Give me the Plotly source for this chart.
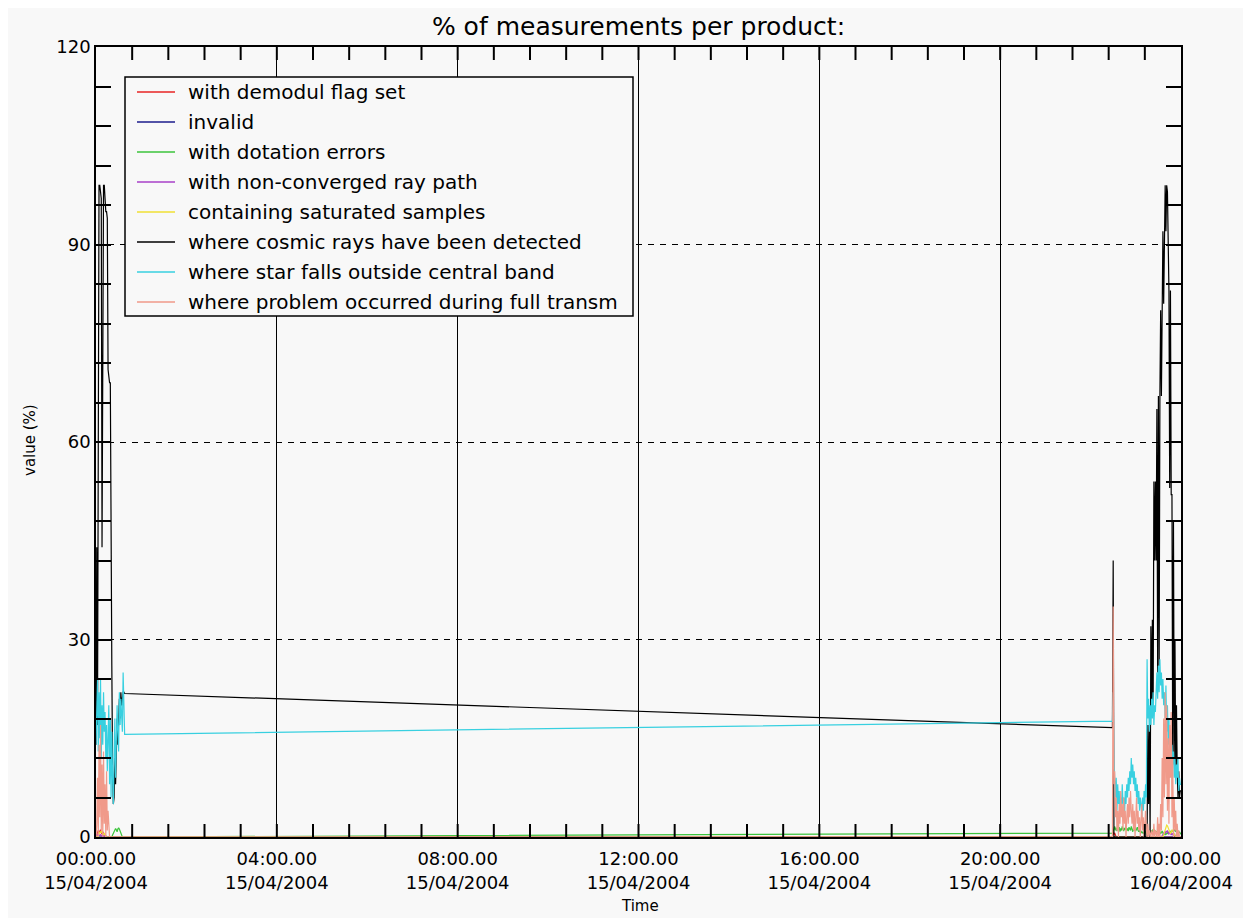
import pandas as pd
import plotly.graph_objects as go

# ---------------- data ----------------
# sample times (minutes after 15/04/2004 00:00)
left_minutes = list(range(0, 39))
right_minutes = list(range(1349, 1441))

series_names = [
    "with demodul flag set",
    "invalid",
    "with dotation errors",
    "with non-converged ray path",
    "containing saturated samples",
    "where cosmic rays have been detected",
    "where star falls outside central band",
    "where problem occurred during full transm",
]
series_colors = ["#e82424", "#1c1c8c", "#3cc43c", "#a840c8", "#f0e034",
                 "#000000", "#38d0e0", "#f09a8a"]

red_left = [0, 0.3, 0.8, 1.0, 0.6, 0.9, 1.1, 0.7, 0.4, 0.8, 0.5, 0.2, 0,
            0, 0, 0, 0, 0, 0, 0, 0, 0, 0, 0, 0, 0,
            0, 0, 0, 0, 0, 0, 0, 0, 0, 0, 0, 0, 0]
blue_left = [0, 0, 0, 0, 0, 0, 0, 0, 0, 0, 0, 0, 0,
             0, 0, 0, 0, 0, 0, 0, 0, 0, 0, 0, 0, 0,
             0, 0, 0, 0, 0, 0, 0, 0, 0, 0, 0, 0, 0]
green_left = [0, 0, 0, 0, 0, 0, 0, 0, 0, 0, 0, 0, 0,
              0, 0, 0, 0, 0, 0, 0, 0, 0, 0.3, 0.6, 0.9, 1.2,
              1.3, 1.1, 0.8, 1.2, 1.4, 1.2, 0.9, 0.5, 0.2, 0, 0, 0, 0]
purple_left = [0.3, 0.2, 0.4, 0.1, 0.3, 0.2, 0.4, 0.1, 0.2, 0.3, 0.1, 0.2, 0.1,
               0.2, 0.1, 0, 0, 0, 0, 0, 0, 0, 0, 0, 0, 0,
               0, 0, 0, 0, 0, 0, 0, 0, 0, 0, 0, 0, 0]
yellow_left = [0, 0, 0, 0.2, 0.5, 0.8, 0.6, 0.9, 0.7, 0.4, 0.3, 0.6, 0.2,
               0, 0, 0, 0, 0, 0, 0, 0, 0, 0, 0, 0, 0,
               0, 0, 0, 0, 0, 0, 0, 0, 0, 0, 0, 0, 0]
black_left = [14, 44, 17, 98, 99, 99, 98, 97, 44, 95, 99, 99, 96,
              95, 95, 94, 71, 70, 69, 69, 27, 26, 10, 5, 6, 12,
              8, 16, 18, 14, 19, 21, 18, 22, 20, 21, 22, 22, 21.8]
cyan_left = [14, 18, 24, 13, 22, 15, 24, 12, 20, 14, 22, 16, 19,
             12, 17, 10, 15, 20, 8, 18, 6, 16, 9, 5, 12, 18,
             9, 14, 20, 16, 13, 22, 17, 21, 19, 16, 25, 20, 15.6]
salmon_left = [0, 2, 9, 0, 14, 3, 17, 1, 11, 0, 13, 2, 8,
               0, 10, 1, 4, 0, 0, 0, 0, 0, 0, 0, 0, 0,
               0, 0, 0, 0, 0, 0, 0, 0, 0, 0, 0, 0, 0]

red_right = [0, 0.8, 0.4, 0.6, 0.2, 0, 0, 0, 0, 0,
             0, 0, 0, 0, 0, 0, 0, 0, 0, 0,
             0, 0, 0, 0, 0, 0, 0, 0, 0, 0,
             0, 0, 0, 0, 0, 0, 0, 0, 0, 0,
             0, 0, 0, 0, 0, 0, 0, 0, 0, 0,
             0, 0, 0, 0, 0, 0, 0, 0, 0, 0,
             0, 0, 0, 0, 0, 0, 0, 0, 0, 0,
             0, 0, 0, 0, 0, 0, 0, 0, 0, 0,
             0, 0, 0, 0, 0, 0, 0, 0, 0, 0,
             0, 0]
blue_right = [0, 0, 0, 0, 0, 0, 0, 0, 0, 0,
              0, 0, 0, 0, 0, 0, 0, 0, 0, 0,
              0, 0, 0, 0, 0, 0, 0, 0, 0, 0,
              0, 0, 0, 0, 0, 0, 0, 0, 0, 0,
              0, 0, 0, 0, 0, 0, 0, 0, 0, 0,
              0, 0, 0, 0, 0, 0, 0, 0, 0, 0,
              0, 0, 0, 0, 0, 0, 0, 0, 0, 0,
              0, 0, 0, 0, 0, 0, 0, 0, 0, 0,
              0, 0, 0, 0, 0, 0, 0, 0, 0, 0,
              0, 0]
green_right = [0.6, 0.8, 1.2, 1.6, 1.0, 1.4, 0.9, 1.7, 1.1, 1.5,
               0.8, 1.3, 1.0, 1.6, 1.2, 0.9, 1.4, 1.1, 1.8, 1.0,
               1.3, 0.9, 1.5, 1.2, 1.0, 1.6, 1.1, 0.8, 1.3, 1.0,
               1.4, 0.9, 1.2, 1.5, 1.0, 0.8, 1.1, 0.7, 0.9, 0.6,
               0.8, 0.5, 0.7, 0.6, 0.9, 0.4, 0.6, 0.8, 0.5, 0.7,
               0.9, 0.6, 1.0, 0.7, 1.2, 0.8, 1.1, 0.6, 0.9, 0.5,
               0.7, 0.4, 0.6, 0.8, 0.5, 0.7, 0.9, 0.6, 0.4, 0.5,
               0.3, 0.6, 0.4, 0.7, 0.5, 0.8, 0.6, 0.9, 0.7, 1.0,
               0.8, 1.1, 0.9, 1.2, 0.8, 1.0, 0.7, 0.9, 0.6, 0.8,
               0.5, 0.4]
purple_right = [0, 0, 0, 0, 0, 0, 0, 0, 0, 0,
                0, 0, 0, 0, 0, 0, 0, 0, 0, 0,
                0, 0, 0, 0, 0, 0, 0, 0, 0, 0,
                0, 0, 0, 0, 0, 0, 0, 0, 0, 0,
                0, 0, 0, 0, 0, 0, 0, 0, 0, 0,
                0, 0, 0, 0, 0, 0, 0, 0, 0, 0,
                0, 0, 0, 0, 0, 0, 0.2, 0.4, 0.6, 0.8,
                0.5, 0.9, 0.7, 1.0, 0.6, 0.4, 0.8, 0.5, 0.3, 0.6,
                0.4, 0.2, 0.5, 0.3, 0.1, 0.2, 0.1, 0, 0, 0,
                0, 0]
yellow_right = [0, 0, 0, 0, 0, 0, 0, 0, 0, 0,
                0, 0, 0, 0, 0, 0, 0, 0, 0, 0,
                0, 0, 0, 0, 0, 0, 0, 0, 0, 0,
                0, 0, 0, 0, 0, 0, 0, 0, 0, 0,
                0, 0, 0, 0, 0, 0, 0, 0, 0, 0,
                0, 0, 0, 0, 0, 0, 0, 0, 0, 0,
                0, 0, 0, 0, 0, 0, 0, 0, 0.3, 0.8,
                1.2, 1.6, 1.8, 1.7, 1.4, 1.0, 0.7, 0.5, 0.8, 1.1,
                0.9, 0.6, 0.4, 0.2, 0.1, 0, 0, 0, 0, 0,
                0, 0]
black_right = [16.6, 42, 0, 0, 0, 0, 0, 0, 0, 0,
               0, 0, 0, 0, 0, 0, 0, 0, 0, 0,
               0, 0, 0, 0, 0, 0, 0, 0, 0, 0,
               0, 0, 0, 0, 0, 0, 0, 0, 0, 0,
               0, 0, 0, 0, 0, 0, 0, 17, 5, 17,
               0, 32, 19, 33, 19, 54, 42, 54, 42, 65,
               25, 67, 26, 67, 80, 67, 80, 92, 81, 93,
               99, 92, 99, 98, 84, 83, 53, 83, 52, 52,
               12, 48, 12, 30, 10, 20, 10, 6, 10, 6,
               7, 7]
cyan_right = [17.6, 22, 12, 10, 6, 9, 4, 8, 5, 7,
              3, 6, 4, 8, 5, 6, 3, 7, 5, 8,
              6, 9, 7, 10, 8, 12, 9, 11, 8, 10,
              7, 9, 6, 8, 5, 7, 4, 6, 5, 3,
              6, 4, 7, 5, 8, 6, 27, 18, 21, 16,
              20, 17, 21, 18, 22, 17, 20, 19, 22, 25,
              21, 26, 22, 27, 23, 25, 21, 24, 20, 22,
              18, 23, 16, 20, 14, 18, 12, 16, 10, 14,
              11, 13, 9, 12, 8, 11, 9, 12, 7, 9,
              8, 8]
salmon_right = [0, 35, 8, 10, 3, 6, 1, 4, 0, 5,
                2, 7, 3, 5, 1, 6, 2, 4, 0, 3,
                5, 2, 6, 3, 7, 4, 2, 5, 1, 4,
                0, 3, 6, 2, 4, 1, 3, 0, 2, 5,
                1, 3, 0, 2, 4, 1, 0, 2, 0, 1,
                0, 0, 1, 0, 0, 2, 0, 1, 0, 0,
                3, 0, 2, 0, 5, 1, 12, 3, 18, 6,
                22, 8, 20, 4, 15, 2, 17, 9, 19, 3,
                12, 0, 6, 1, 4, 0, 2, 0, 1, 0,
                0, 0]

series_left = [red_left, blue_left, green_left, purple_left, yellow_left,
               black_left, cyan_left, salmon_left]
series_right = [red_right, blue_right, green_right, purple_right, yellow_right,
                black_right, cyan_right, salmon_right]

tick_hours = [0, 4, 8, 12, 16, 20, 24]
tick_text = ["00:00.00<br>15/04/2004", "04:00.00<br>15/04/2004",
             "08:00.00<br>15/04/2004", "12:00.00<br>15/04/2004",
             "16:00.00<br>15/04/2004", "20:00.00<br>15/04/2004",
             "00:00.00<br>16/04/2004"]
minor_tick_minutes = list(range(48, 1440, 48))
y_ticks = [0, 30, 60, 90, 120]
y_range = [0, 120]

# ---------------- figure ----------------
base = pd.Timestamp("2004-04-15 00:00:00")
end = base + pd.Timedelta(hours=24)
fmt = "%Y-%m-%d %H:%M:%S"
times = [(base + pd.Timedelta(minutes=m)).strftime(fmt)
         for m in left_minutes + right_minutes]

OFF = 8  # page body margin of the browser
W, H = 1251 - OFF, 918 - OFF
L, R, T, B = 88, 70, 39, 81
PW, PH = W - L - R, H - T - B
BG = "#f8f8f8"
FONT = "DejaVu Sans"


def px(x):
    """screen pixel x -> paper fraction"""
    return (x - OFF - L) / PW


def py(y):
    """screen pixel y -> paper fraction"""
    return (H - B - (y - OFF)) / PH


fig = go.Figure()
for name, col, lv, rv in zip(series_names, series_colors, series_left, series_right):
    fig.add_trace(go.Scatter(x=times, y=lv + rv, mode="lines", name=name,
                             line=dict(color=col, width=1.2), showlegend=False))

# minor x ticks (every 48 min) at bottom and top, as one line trace
tick_units = 13 / PH * (y_range[1] - y_range[0])
tx, ty = [], []
for m in minor_tick_minutes:
    t = (base + pd.Timedelta(minutes=m)).strftime(fmt)
    tx += [t, t, None, t, t, None]
    ty += [y_range[0], y_range[0] + tick_units, None,
           y_range[1] - tick_units, y_range[1], None]
fig.add_trace(go.Scatter(x=tx, y=ty, mode="lines", showlegend=False,
                         hoverinfo="skip", connectgaps=False,
                         line=dict(color="black", width=2)))

fig.update_layout(
    width=W, height=H,
    margin=dict(l=L, r=R, t=T, b=B),
    paper_bgcolor=BG, plot_bgcolor=BG,
    font=dict(family=FONT, color="black"),
    title=dict(text="% of measurements per product:", x=0.5, xref="paper",
               y=1 - (26 - OFF) / H, yref="container", yanchor="middle",
               font=dict(size=25, family=FONT, color="black")),
    showlegend=False,
)

fig.update_layout(
    xaxis=dict(
        type="date", range=[base.strftime(fmt), end.strftime(fmt)],
        tickmode="array",
        tickvals=[(base + pd.Timedelta(hours=h)).strftime(fmt) for h in tick_hours],
        ticktext=tick_text,
        ticks="inside", ticklen=13, tickcolor="black", tickwidth=1,
        ticklabelstandoff=5,
        tickfont=dict(size=18, family=FONT, color="black"),
        showgrid=True, gridcolor="black", gridwidth=1.4,
        showline=True, linecolor="black", linewidth=1.5, mirror="allticks",
        zeroline=False,
    ),
    yaxis=dict(
        range=y_range,
        tickvals=y_ticks,
        ticks="inside", ticklen=15, tickcolor="black", tickwidth=1.5,
        tickfont=dict(size=18, family=FONT, color="black"),
        showgrid=True, gridcolor="black", gridwidth=1, griddash="6px,6px",
        showline=True, linecolor="black", linewidth=1.5, mirror="allticks",
        zeroline=False,
        minor=dict(dtick=6, ticks="inside", ticklen=15, tickcolor="black",
                   tickwidth=1.5, showgrid=False),
    ),
)

# axis titles
fig.add_annotation(text="Time", xref="paper", yref="paper", x=px(640), y=py(906),
                   showarrow=False, font=dict(size=15, family=FONT, color="black"),
                   xanchor="center", yanchor="middle")
fig.add_annotation(text="value (%)", xref="paper", yref="paper", x=px(30), y=py(440),
                   showarrow=False, textangle=-90,
                   font=dict(size=15, family=FONT, color="black"),
                   xanchor="center", yanchor="middle")

# legend box drawn manually (IDL style)
fig.add_shape(type="rect", xref="paper", yref="paper",
              x0=px(125), x1=px(633), y0=py(316), y1=py(77),
              line=dict(color="black", width=1.5), fillcolor=BG, layer="above")
for k, (name, col) in enumerate(zip(series_names, series_colors)):
    yy = 92 + 30 * k
    fig.add_shape(type="line", xref="paper", yref="paper",
                  x0=px(137), x1=px(175), y0=py(yy), y1=py(yy),
                  line=dict(color=col, width=1.5), layer="above")
    fig.add_annotation(text=name, xref="paper", yref="paper", x=px(186), y=py(yy),
                       showarrow=False, xanchor="left", yanchor="middle",
                       font=dict(size=20, family=FONT, color="black"))

fig.write_html("out.html")
